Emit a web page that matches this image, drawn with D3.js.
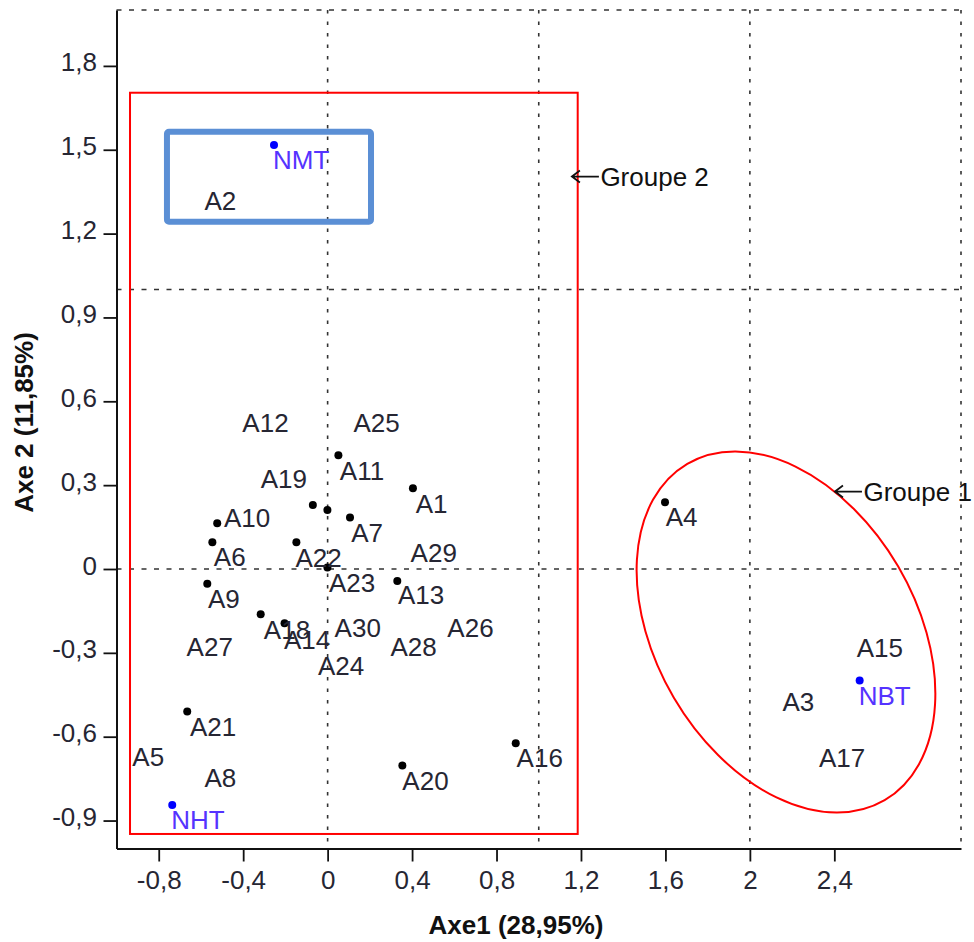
<!DOCTYPE html>
<html>
<head>
<meta charset="utf-8">
<script src="https://cdn.jsdelivr.net/npm/d3@7"></script>
<style>
  html, body { margin: 0; padding: 0; background: #fff; }
  svg { display: block; }
  text { font-family: "Liberation Sans", Arial, sans-serif; }
</style>
</head>
<body>
<svg id="chart" width="974" height="942"></svg>
<script>
// ---------- data ----------
const xTicks = [-0.8, -0.4, 0, 0.4, 0.8, 1.2, 1.6, 2, 2.4];
const yTicks = [-0.9, -0.6, -0.3, 0, 0.3, 0.6, 0.9, 1.2, 1.5, 1.8];
const xGrid = [0, 1, 2, 3];
const yGrid = [0, 1, 2];

// labels of active observations (anchor = left / baseline, in axis units)
const labelNames = ["A12","A25","A11","A1","A19","A10","A7","A6","A22","A29","A23","A13","A9",
  "A18","A14","A30","A26","A27","A28","A24","A21","A5","A8","A20","A16","A2","A4","A15","A3","A17"];
const labelAxe1 = [-0.404, 0.122, 0.058, 0.417, -0.317, -0.491, 0.112, -0.539, -0.152, 0.393, 0.006, 0.333, -0.567,
  -0.302, -0.207, 0.033, 0.567, -0.668, 0.298, -0.046, -0.652, -0.925, -0.583, 0.354, 0.895, -0.583, 1.601, 2.506, 2.154, 2.327];
const labelAxe2 = [0.489, 0.489, 0.319, 0.200, 0.289, 0.152, 0.096, 0.012, 0.006, 0.024, -0.083, -0.127, -0.139,
  -0.250, -0.286, -0.244, -0.244, -0.313, -0.313, -0.379, -0.596, -0.706, -0.781, -0.789, -0.709, 1.286, 0.153, -0.316, -0.507, -0.709];

// visible black points
const dotAxe1 = [0.051, 0.404, -0.070, -0.001, -0.523, 0.106, -0.546, -0.148, -0.001, 0.330, -0.570, -0.317, -0.204, -0.665, 0.354, 0.891, 1.598];
const dotAxe2 = [0.407, 0.289, 0.229, 0.211, 0.164, 0.184, 0.096, 0.096, 0.005, -0.043, -0.053, -0.162, -0.194, -0.510, -0.703, -0.623, 0.239];

// supplementary points (blue)
const suppNames = ["NMT", "NHT", "NBT"];
const suppAxe1 = [-0.254, -0.736, 2.520];
const suppAxe2 = [1.517, -0.844, -0.399];

// annotations (axis units)
const groupNames = ["Groupe 2", "Groupe 1"];
const groupArrowAxe1 = [1.157, 2.403];
const groupArrowAxe2 = [1.404, 0.277];

const xTitle = "Axe1 (28,95%)";
const yTitle = "Axe 2 (11,85%)";

// ---------- drawing ----------
const svg = d3.select("#chart");
const x = d3.scaleLinear().domain([-1, 3]).range([116.5, 961]);
const y = d3.scaleLinear().domain([-1, 2]).range([848.5, 10]);
const fmt = v => String(v).replace(".", ",");
const FS = 26;
const labelColor = "#262633";

// grid (dotted)
svg.append("g").selectAll("line").data(xGrid).join("line")
  .attr("x1", d => x(d)).attr("x2", d => x(d))
  .attr("y1", y(2)).attr("y2", y(-1))
  .attr("stroke", "#333").attr("stroke-width", 1.6)
  .attr("stroke-dasharray", "3.5,8");
svg.append("g").selectAll("line").data(yGrid).join("line")
  .attr("y1", d => y(d)).attr("y2", d => y(d))
  .attr("x1", x(-1)).attr("x2", x(3))
  .attr("stroke", "#333").attr("stroke-width", 1.6)
  .attr("stroke-dasharray", "5,7.5");

// axes
const gx = svg.append("g").attr("transform", `translate(0,${y(-1)})`)
  .call(d3.axisBottom(x).tickValues(xTicks).tickFormat(fmt).tickSize(13).tickSizeOuter(0));
const gy = svg.append("g").attr("transform", `translate(${x(-1)},0)`)
  .call(d3.axisLeft(y).tickValues(yTicks).tickFormat(fmt).tickSize(13).tickSizeOuter(0).tickPadding(6.5));
[gx, gy].forEach(g => {
  g.select(".domain").attr("stroke", "#111").attr("stroke-width", 2);
  g.selectAll(".tick line").attr("stroke", "#111").attr("stroke-width", 1.8);
  g.selectAll(".tick text").attr("fill", labelColor).attr("font-size", FS)
    .attr("font-family", "'Liberation Sans', Arial, sans-serif");
});
gx.selectAll(".tick text").attr("y", 40.5).attr("dy", 0);
gy.selectAll(".tick text").attr("dy", 5);

// axis titles
svg.append("text").attr("x", 516).attr("y", 934)
  .attr("text-anchor", "middle").attr("font-size", FS).attr("font-weight", "bold")
  .attr("fill", "#111").text(xTitle);
svg.append("text").attr("transform", "translate(33,422.5) rotate(-90)")
  .attr("text-anchor", "middle").attr("font-size", FS).attr("font-weight", "bold")
  .attr("fill", "#111").text(yTitle);

// group 2 red rectangle
const redBox = {x0: -0.936, x1: 1.1845, y0: -0.948, y1: 1.704};
svg.append("rect")
  .attr("x", x(redBox.x0)).attr("y", y(redBox.y1))
  .attr("width", x(redBox.x1) - x(redBox.x0)).attr("height", y(redBox.y0) - y(redBox.y1))
  .attr("fill", "none").attr("stroke", "#ff0000").attr("stroke-width", 2);

// blue rectangle
const blueBox = {x0: -0.761, x1: 0.2055, y0: 1.2426, y1: 1.5646};
svg.append("rect")
  .attr("x", x(blueBox.x0)).attr("y", y(blueBox.y1))
  .attr("width", x(blueBox.x1) - x(blueBox.x0)).attr("height", y(blueBox.y0) - y(blueBox.y1))
  .attr("rx", 2)
  .attr("fill", "none").attr("stroke", "#5b8fd5").attr("stroke-width", 6);

// group 1 ellipse
const ell = {cx: 2.171, cy: -0.2254};
svg.append("ellipse")
  .attr("transform", `translate(${x(ell.cx)},${y(ell.cy)}) rotate(59.6)`)
  .attr("rx", 195).attr("ry", 130)
  .attr("fill", "none").attr("stroke", "#ff0000").attr("stroke-width", 2);

// group annotations
groupNames.forEach((name, i) => {
  const tx = x(groupArrowAxe1[i]), ty = y(groupArrowAxe2[i]);
  svg.append("path")
    .attr("d", `M${tx + 27},${ty} L${tx},${ty} M${tx + 8},${ty - 6} L${tx},${ty} L${tx + 8},${ty + 6}`)
    .attr("fill", "none").attr("stroke", "#111").attr("stroke-width", 1.8);
  svg.append("text").attr("x", tx + 28.5).attr("y", ty + 9.5)
    .attr("font-size", FS).attr("fill", "#111").text(name);
});

// black points
svg.append("g").selectAll("circle").data(dotAxe1.map((v, i) => [v, dotAxe2[i]])).join("circle")
  .attr("cx", d => x(d[0])).attr("cy", d => y(d[1])).attr("r", 4).attr("fill", "#000");

// labels
svg.append("g").selectAll("text").data(labelNames).join("text")
  .attr("x", (d, i) => x(labelAxe1[i])).attr("y", (d, i) => y(labelAxe2[i]))
  .attr("font-size", FS).attr("fill", labelColor).text(d => d);

// supplementary
const supp = svg.append("g");
supp.selectAll("circle").data(suppNames).join("circle")
  .attr("cx", (d, i) => x(suppAxe1[i])).attr("cy", (d, i) => y(suppAxe2[i]))
  .attr("r", 4).attr("fill", "#0000ff");
supp.selectAll("text").data(suppNames).join("text")
  .attr("x", (d, i) => x(suppAxe1[i]) - 1).attr("y", (d, i) => y(suppAxe2[i]) + 24.5)
  .attr("font-size", FS).attr("fill", "#5533ff").text(d => d);
</script>
</body>
</html>
